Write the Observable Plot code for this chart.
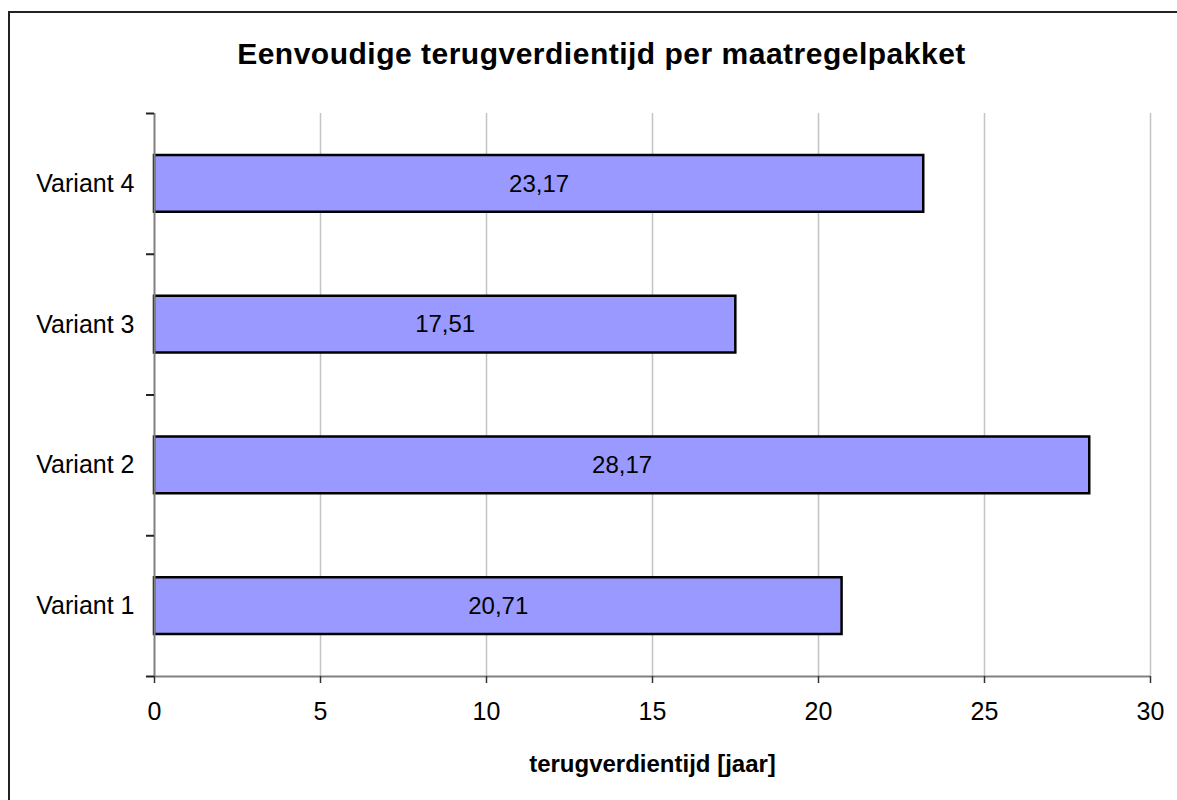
<!DOCTYPE html>
<html>
<head>
<meta charset="utf-8">
<script src="https://cdn.jsdelivr.net/npm/d3@7"></script>
<script src="https://cdn.jsdelivr.net/npm/@observablehq/plot@0.6"></script>
<style>
  html, body { margin: 0; padding: 0; background: #fff; }
  #wrap { position: relative; width: 1177px; height: 800px; overflow: hidden; background: #fff; font-family: "Liberation Sans", Arial, sans-serif; }
  #frame { position: absolute; left: 8px; top: 11px; width: 1300px; height: 900px; border: 2px solid #222; box-sizing: border-box; }
  #title { position: absolute; left: 0; top: 39px; width: 1203px; text-align: center; font-size: 30px; line-height: 30px; font-weight: bold; letter-spacing: 0.5px; color: #000; }
  #chart { position: absolute; left: 0; top: 0; }
</style>
</head>
<body>
<div id="wrap">
  <div id="frame"></div>
  <div id="chart"></div>
  <div id="title">Eenvoudige terugverdientijd per maatregelpakket</div>
</div>
<script>
const categories = ["Variant 1", "Variant 2", "Variant 3", "Variant 4"];
const values = [20.71, 28.17, 17.51, 23.17];
const xTicks = [0, 5, 10, 15, 20, 25, 30];
const xLabel = "terugverdientijd [jaar]";

const data = categories.map((c, i) => ({category: c, value: values[i], i}));
const fmt = v => v.toFixed(2).replace(".", ",");

const chart = Plot.plot({
  width: 1177,
  height: 800,
  marginLeft: 154,
  marginRight: 27,
  marginTop: 113,
  marginBottom: 124,
  style: {fontFamily: "'Liberation Sans', Arial, sans-serif", background: "transparent", color: "#000"},
  x: {domain: [0, 30]},
  y: {domain: [0, categories.length]},
  marks: [
    Plot.ruleX(xTicks.filter(t => t > 0), {stroke: "#c4c4c4", strokeWidth: 1.5}),
    Plot.rectX(data, {
      x1: 0, x2: "value",
      y1: "i", y2: d => d.i + 1,
      insetTop: 42, insetBottom: 42,
      fill: "#9999ff", stroke: "#000", strokeWidth: 2.5
    }),
    Plot.text(data, {
      x: d => d.value / 2, y: d => d.i + 0.5,
      text: d => fmt(d.value),
      fontSize: 24, fill: "#000"
    }),
    Plot.ruleX([0], {stroke: "#808080", strokeWidth: 2}),
    Plot.ruleY([0], {stroke: "#808080", strokeWidth: 2}),
    Plot.axisX({
      ticks: xTicks, tickSize: 7, tickPadding: 19, stroke: "#333", strokeWidth: 1.5,
      fontSize: 25, label: null, tickFormat: d => String(d)
    }),
    Plot.axisY({
      ticks: d3.range(0, categories.length + 1), tickSize: 8, tickFormat: () => "",
      stroke: "#222", strokeWidth: 2, label: null
    }),
    Plot.axisY({
      ticks: categories.map((c, i) => i + 0.5), tickSize: 0, tickPadding: 20,
      tickFormat: v => categories[Math.floor(v)], fontSize: 25, label: null
    }),
    Plot.text([xLabel], {
      frameAnchor: "bottom", dy: 88, lineAnchor: "middle",
      fontWeight: "bold", fontSize: 24, fill: "#000"
    })
  ]
});
document.getElementById("chart").appendChild(chart);
</script>
</body>
</html>
